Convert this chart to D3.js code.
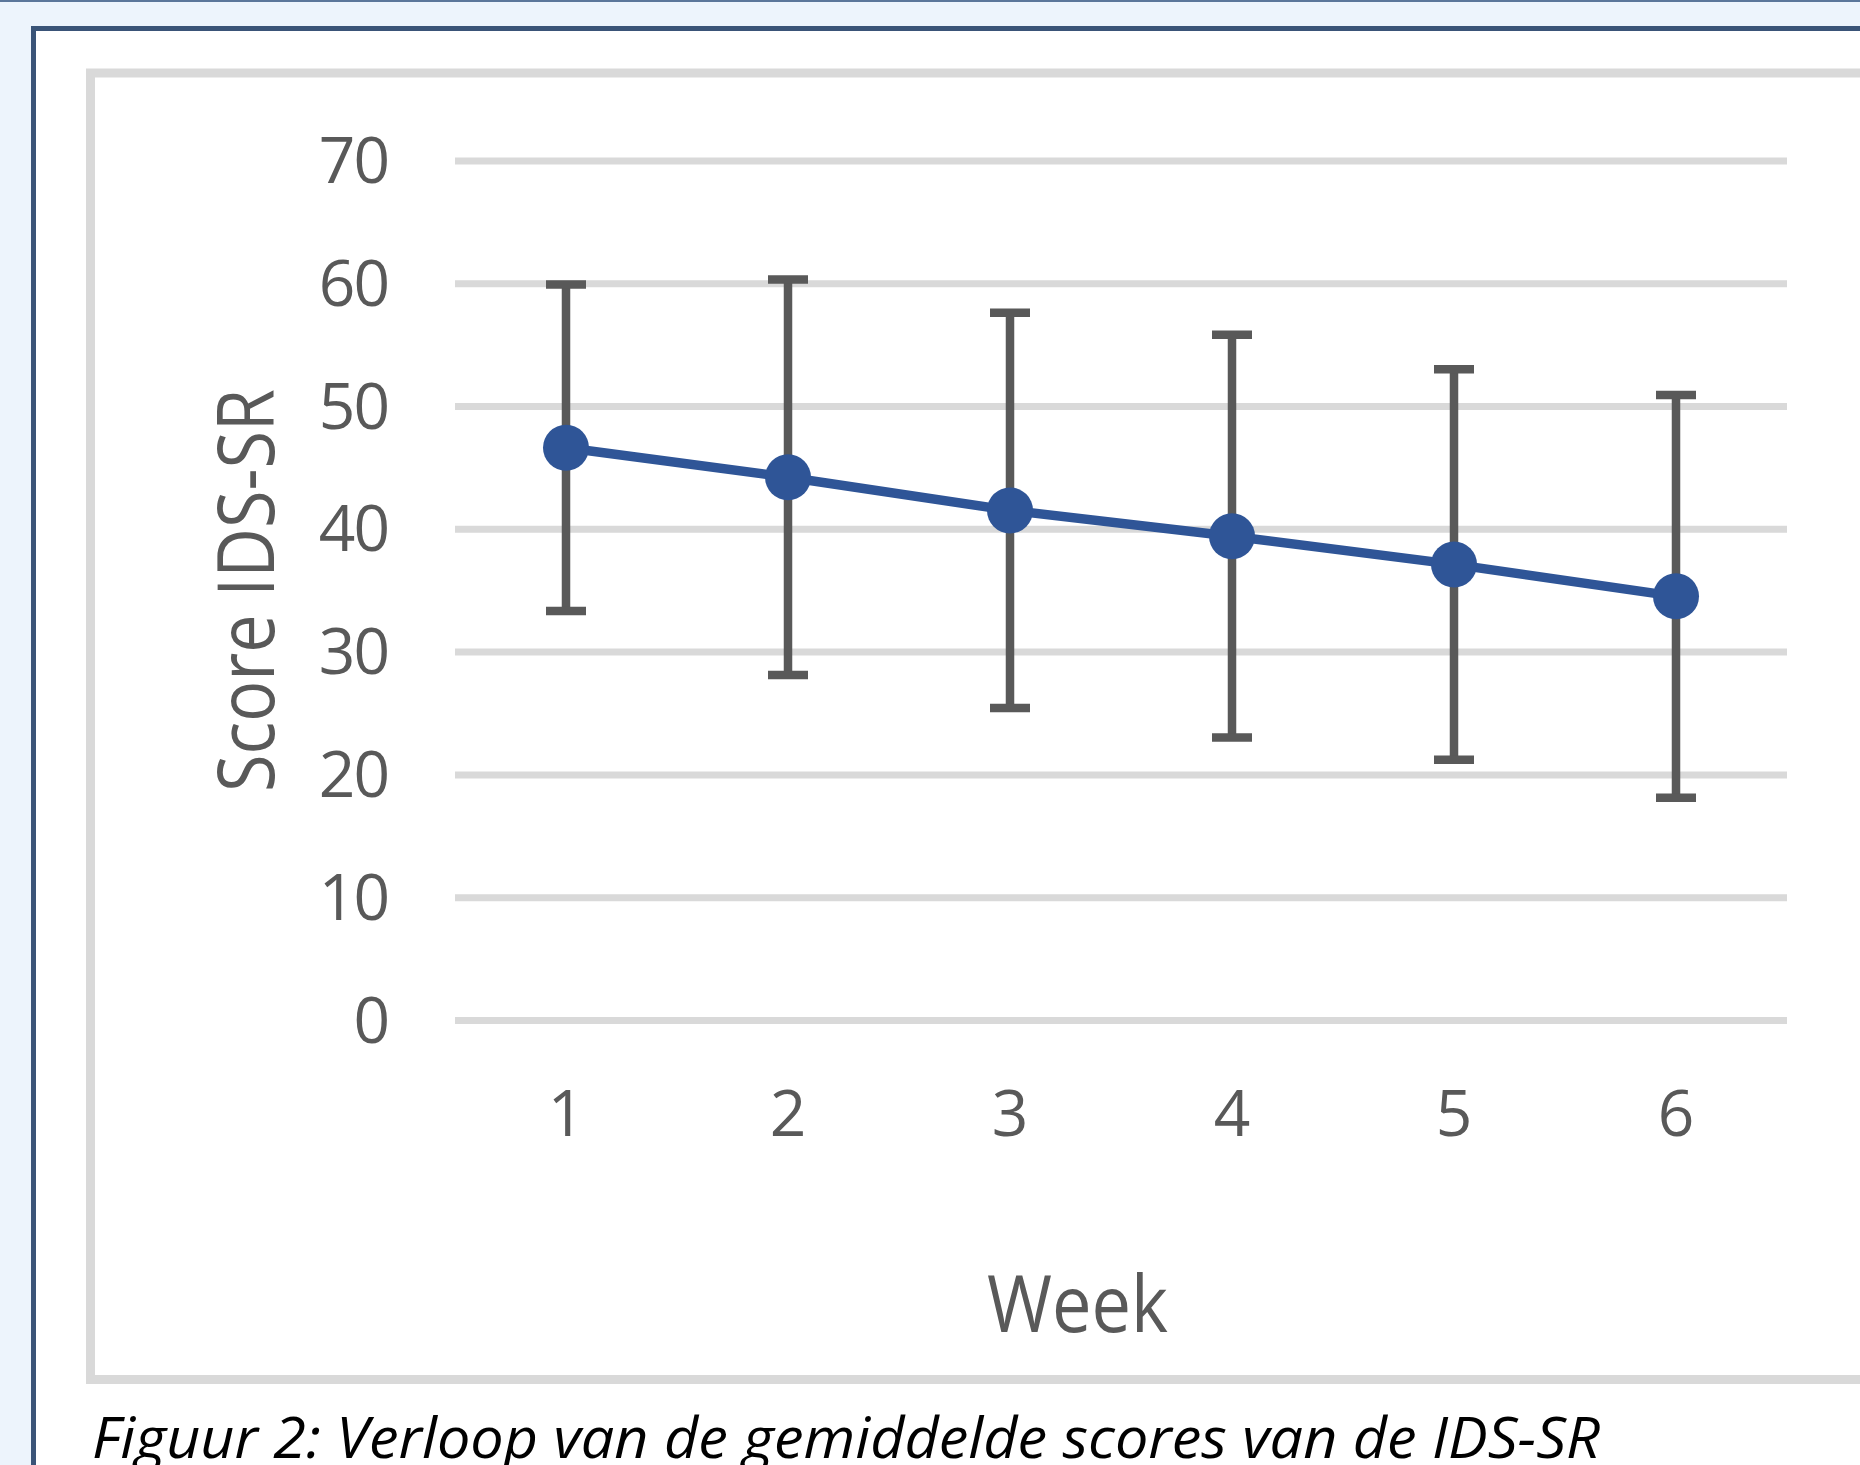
<!DOCTYPE html>
<html>
<head>
<meta charset="utf-8">
<script src="https://cdn.jsdelivr.net/npm/d3@7"></script>
<style>
  html, body { margin: 0; padding: 0; background: #EDF4FC; }
  svg { display: block; }
</style>
</head>
<body>
<svg id="chart" width="1860" height="1465"></svg>
<script>
// ---- data ----
const weeks = ["1", "2", "3", "4", "5", "6"];
const meanScores = [46.6, 44.2, 41.5, 39.4, 37.1, 34.5];
const sdScores = [13.3, 16.1, 16.1, 16.4, 15.9, 16.4];
const yTickValues = [0, 10, 20, 30, 40, 50, 60, 70];
const yAxisTitle = "Score IDS-SR";
const xAxisTitle = "Week";
const captionText = "Figuur 2: Verloop van de gemiddelde scores van de IDS-SR";

// ---- layout ----
const W = 1860, H = 1465;
const plot = { left: 455, right: 1787, top: 160.4, bottom: 1020 };
const svg = d3.select("#chart");

// page background + top line
svg.append("rect").attr("x", 0).attr("y", 0).attr("width", W).attr("height", H).attr("fill", "#EDF4FC");
svg.append("rect").attr("x", 0).attr("y", 0).attr("width", W).attr("height", 2).attr("fill", "#5B769A");

// dark blue frame (continues past right/bottom edges)
svg.append("rect").attr("x", 33.5).attr("y", 28.5).attr("width", 1900).attr("height", 1500)
  .attr("fill", "#FFFFFF").attr("stroke", "#3A5478").attr("stroke-width", 5);

// grey chart border
svg.append("rect").attr("x", 90.5).attr("y", 73).attr("width", 1900).attr("height", 1306.5)
  .attr("fill", "#FFFFFF").attr("stroke", "#D9D9D9").attr("stroke-width", 9);

// scales
const x = d3.scaleBand().domain(weeks).range([plot.left, plot.right]).padding(0);
const y = d3.scaleLinear().domain([0, 70]).range([plot.bottom, plot.top]);

const fontFam = "'Open Sans', 'Liberation Sans', sans-serif";

// y axis with gridlines
const yAxis = svg.append("g")
  .attr("transform", `translate(${plot.left},0)`)
  .call(d3.axisLeft(y).tickValues(yTickValues).tickSize(-(plot.right - plot.left)).tickPadding(67));
yAxis.select(".domain").remove();
yAxis.selectAll(".tick line").attr("stroke", "#D9D9D9").attr("stroke-width", 7);
yAxis.selectAll(".tick text")
  .attr("fill", "#595959")
  .attr("font-family", fontFam)
  .attr("font-size", 64)
  .attr("letter-spacing", -2)
  .attr("dy", 22);

// x axis labels
const xAxis = svg.append("g")
  .attr("transform", `translate(0,${plot.bottom})`)
  .call(d3.axisBottom(x).tickSize(0));
xAxis.select(".domain").remove();
xAxis.selectAll(".tick text")
  .attr("fill", "#595959")
  .attr("font-family", fontFam)
  .attr("font-size", 64)
  .attr("y", 116)
  .attr("dy", 0);

// error bars
const cx = d => x(d) + x.bandwidth() / 2;
const eb = svg.append("g").attr("stroke", "#595959");
weeks.forEach((w, i) => {
  const lo = meanScores[i] - sdScores[i];
  const hi = meanScores[i] + sdScores[i];
  eb.append("line").attr("x1", cx(w)).attr("x2", cx(w)).attr("y1", y(hi)).attr("y2", y(lo)).attr("stroke-width", 8.5);
  eb.append("line").attr("x1", cx(w) - 20).attr("x2", cx(w) + 20).attr("y1", y(hi)).attr("y2", y(hi)).attr("stroke-width", 8.5);
  eb.append("line").attr("x1", cx(w) - 20).attr("x2", cx(w) + 20).attr("y1", y(lo)).attr("y2", y(lo)).attr("stroke-width", 8.5);
});

// line + markers
const pts = weeks.map((w, i) => [cx(w), y(meanScores[i])]);
svg.append("path").attr("d", d3.line()(pts)).attr("fill", "none")
  .attr("stroke", "#2F5597").attr("stroke-width", 9.5).attr("stroke-linejoin", "round");
svg.append("g").selectAll("circle").data(pts).join("circle")
  .attr("cx", d => d[0]).attr("cy", d => d[1]).attr("r", 23).attr("fill", "#2F5597");

// axis titles
svg.append("text")
  .attr("transform", "translate(274,590.5) rotate(-90)")
  .attr("text-anchor", "middle")
  .attr("font-family", fontFam).attr("font-size", 78).attr("fill", "#595959")
  .attr("textLength", 403).attr("lengthAdjust", "spacingAndGlyphs")
  .text(yAxisTitle);

svg.append("text")
  .attr("x", 1077.5).attr("y", 1332)
  .attr("text-anchor", "middle")
  .attr("font-family", fontFam).attr("font-size", 79).attr("fill", "#595959")
  .attr("textLength", 181).attr("lengthAdjust", "spacingAndGlyphs")
  .text(xAxisTitle);

// caption
svg.append("text")
  .attr("x", 92).attr("y", 1458)
  .attr("font-family", fontFam).attr("font-style", "italic")
  .attr("font-size", 56).attr("fill", "#000000")
  .attr("textLength", 1508).attr("lengthAdjust", "spacingAndGlyphs")
  .text(captionText);
</script>
</body>
</html>
